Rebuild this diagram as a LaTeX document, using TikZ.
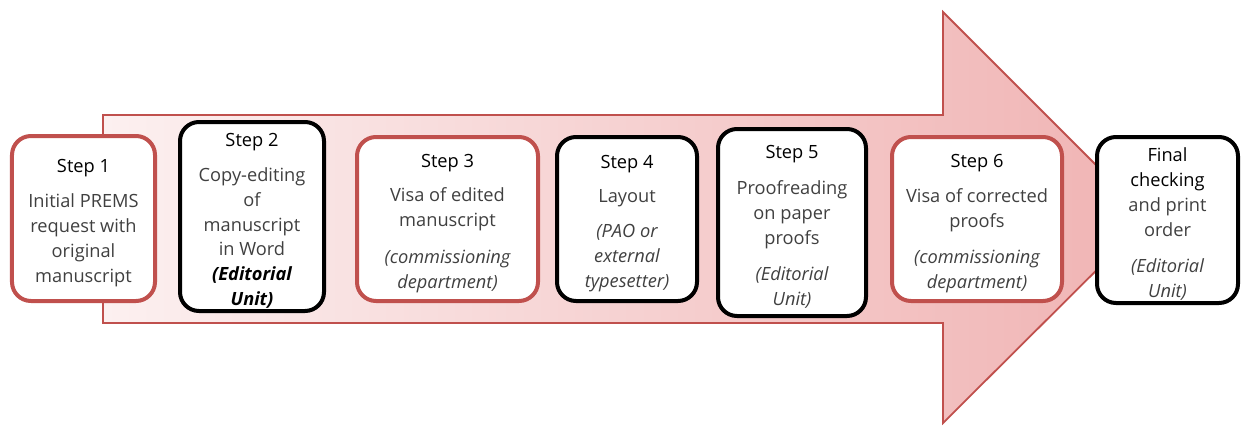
\documentclass[tikz,border=0pt]{standalone}
\usepackage{fontspec}
\setmainfont{Open Sans}
\definecolor{boxred}{HTML}{C0504D}
\definecolor{bodygray}{HTML}{404040}
\definecolor{shadeL}{HTML}{FCF0F0}
\definecolor{shadeR}{HTML}{F0B3B3}
\newcommand\hd[1]{{\color{black}#1}}
\newcommand\hdtop[1]{{\color{black}\rule{0pt}{22bp}#1}}
\tikzset{
  stepbox/.style={draw, line width=4bp, rounded corners=19bp, fill=white, align=center,
    inner sep=0pt, text=bodygray, font=\fontsize{18.3}{25}\selectfont},
  redbox/.style={stepbox, draw=boxred},
  blackbox/.style={stepbox, draw=black},
  bigarrow/.style={draw=boxred, line width=1.8bp, left color=shadeL, right color=shadeR}
}
\begin{document}
\begin{tikzpicture}[x=1bp,y=-1bp]
\useasboundingbox (0,0) rectangle (1242,425);
\path[bigarrow] (103,115) -- (943,115) -- (943,12) -- (1149,218) -- (943,423) -- (943,323) -- (103,323) -- cycle;

\node[redbox, minimum width=143bp, minimum height=165bp] (s1) at (83.5,218.5)
  {\hdtop{Step 1}\\[11bp]Initial PREMS\\request with\\original\\manuscript};
\node[blackbox, minimum width=144bp, minimum height=189bp] (s2) at (252,216.5)
  {\hdtop{Step 2}\\[10bp]Copy-editing\\of\\manuscript\\in Word\\{\color{black}\bfseries\itshape (Editorial}\\{\color{black}\bfseries\itshape Unit)}};
\node[redbox, minimum width=181bp, minimum height=164bp] (s3) at (447.5,219)
  {\hdtop{Step 3}\\[10bp]Visa of edited\\manuscript\\[12bp]\itshape(commissioning\\\itshape department)};
\node[blackbox, minimum width=140bp, minimum height=164bp] (s4) at (627,219)
  {\hdtop{Step 4}\\[10bp]Layout\\[10bp]\itshape(PAO or\\\itshape external\\\itshape typesetter)};
\node[blackbox, minimum width=148bp, minimum height=187bp] (s5) at (792,222.5)
  {\hdtop{Step 5}\\[11bp]Proofreading\\on paper\\proofs\\[11bp]\itshape(Editorial\\\itshape Unit)};
\node[redbox, minimum width=170bp, minimum height=164bp] (s6) at (977,219)
  {\hdtop{Step 6}\\[11bp]Visa of corrected\\proofs\\[11bp]\itshape(commissioning\\\itshape department)};
\node[blackbox, minimum width=141bp, minimum height=166bp] (s7) at (1167.5,220)
  {\hdtop{Final}\\\hd{checking}\\and print\\order\\[11bp]\itshape(Editorial\\\itshape Unit)};
\end{tikzpicture}
\end{document}
